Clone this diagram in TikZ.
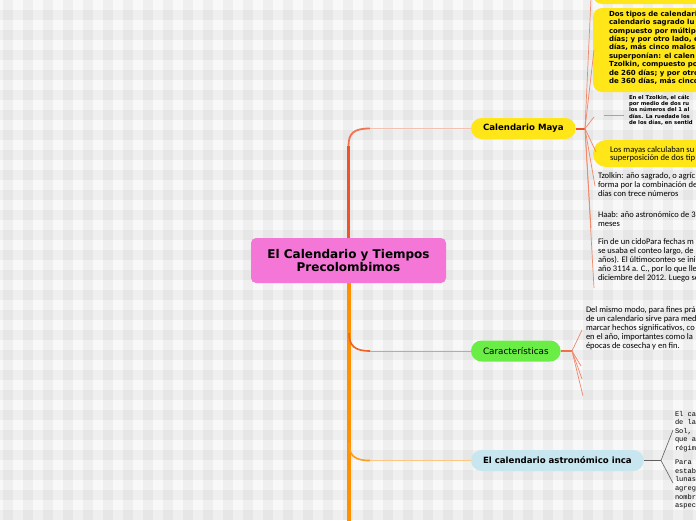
\documentclass[tikz,border=0pt]{standalone}
\usepackage{fontspec}
\setmainfont{DejaVu Sans}
\newfontfamily\libfont{Liberation Sans}
\newfontfamily\carlfont{Carlito}
\newfontfamily\monofont{Liberation Mono}
\definecolor{bgc}{RGB}{248,248,248}
\definecolor{pinkc}{RGB}{244,118,214}
\definecolor{yel}{RGB}{255,230,25}
\definecolor{grn}{RGB}{106,238,70}
\definecolor{blu}{RGB}{200,230,240}
\definecolor{trunkred}{RGB}{238,84,40}
\definecolor{trunkor}{RGB}{255,145,0}
\definecolor{fanc}{RGB}{242,135,105}
\definecolor{palemaya}{RGB}{245,192,178}
\definecolor{carpale}{RGB}{242,150,120}
\definecolor{incapale}{RGB}{255,200,130}
\definecolor{grayline}{RGB}{95,95,95}
\begin{document}
\begin{tikzpicture}[x=1pt,y=-1pt,
  every node/.style={inner sep=0pt, outer sep=0pt},
  pill/.style={rounded corners=10.5pt, minimum height=21pt, inner xsep=12pt, anchor=west},
  txt/.style={anchor=north west, align=left},
  fan/.style={draw=fanc, line width=0.7pt},
  incafan/.style={draw=grayline, line width=0.6pt},
  boldsm/.style={font=\bfseries\fontsize{7}{8.4}\selectfont},
  tzfont/.style={font=\bfseries\fontsize{5.3}{6.3}\selectfont},
  carltxt/.style={font=\carlfont\fontsize{8.5}{8.9}\selectfont},
  monotxt/.style={font=\monofont\fontsize{7}{8.6}\selectfont},
]
\useasboundingbox (0,0) rectangle (696,520);
\clip (0,0) rectangle (696,520);
% gingham background
\fill[bgc] (0,0) rectangle (696,520);
\foreach \i in {0,...,34} \fill[black,opacity=0.035] ({3+20*\i},0) rectangle ({13+20*\i},520);
\foreach \j in {0,...,25} \fill[black,opacity=0.035] (0,{10+20*\j}) rectangle (696,{20+20*\j});

% central node
\node[rounded corners=5pt, fill=pinkc, minimum width=195pt, minimum height=45pt, align=center,
      font=\bfseries\fontsize{12}{13.5}\selectfont] (center) at (348.5,260.5)
      {El Calendario y Tiempos\\Precolombimos};

% main branch nodes
\node[pill, fill=yel, font=\bfseries\fontsize{8.6}{10}\selectfont] (maya) at (471,128.5) {Calendario Maya};
\node[pill, fill=grn, font=\fontsize{8.8}{10}\selectfont] (carac) at (471,351) {Características};
\node[pill, fill=blu, font=\bfseries\fontsize{8.6}{10}\selectfont] (inca) at (471,460.5) {El calendario astronómico inca};

% trunk and branches
\coordinate (m1) at (348.5,146);
\coordinate (m2) at (370,128.5);
\draw[trunkred, line width=3.5pt] (center.north) -- (m1);
\draw[trunkred!70!palemaya, line width=1.8pt] (m1) .. controls (348.5,133) and (354,128.5) .. (m2);
\draw[palemaya, line width=1pt] (m2) -- (maya.west);

\coordinate (bottom) at (348.5,522);
\draw[trunkor, line width=4pt] (center.south) -- (bottom);

\coordinate (c1) at (349,333);
\coordinate (c2) at (370,351);
\draw[trunkred!80!trunkor, line width=1.6pt] (c1) .. controls (349,346) and (355,351) .. (c2);
\draw[carpale, line width=1pt] (c2) -- (carac.west);

\coordinate (i1) at (349,443);
\coordinate (i2) at (370,460.5);
\draw[trunkor!80!incapale, line width=1.6pt] (i1) .. controls (349,456) and (355,460.5) .. (i2);
\draw[incapale, line width=1pt] (i2) -- (inca.west);

% --- Calendario Maya children ---
\coordinate (mv) at (585,128.5);
\draw[trunkred, line width=2pt] (maya.east) -- (mv);

\fill[yel, rounded corners=9pt] (593,-30) rectangle (720,4);
\coordinate (k0) at (591,-2);
\draw[fan] (mv) -- (k0);

\fill[yel, rounded corners=9pt] (593,8) rectangle (720,92);
\node[txt, boldsm] (dos) at (609,11) {Dos tipos de calendari\\calendario sagrado lu\\compuesto por múltip\\días; y por otro lado, e\\días, más cinco malos\\superponían: el calen\\Tzolkin, compuesto po\\de 260 días; y por otro\\de 360 días, más cinco};
\coordinate (k1) at (594,50);
\draw[fan] (mv) -- (k1);

\node[txt, tzfont] (tzol) at (629,95) {En el Tzolkin, el cálc\\por medio de dos ru\\los números del 1 al\\días. La ruedade los\\de los días, en sentid};
\coordinate (k2) at (594,117);
\coordinate (k2a) at (604,115);
\coordinate (k2b) at (624,115);
\draw[fan] (mv) -- (k2);
\draw[fan] (k2a) -- (k2b);

\fill[yel, rounded corners=13pt] (593,140) rectangle (720,167);
\node[txt, font=\carlfont\fontsize{8.6}{8.3}\selectfont] (mayas) at (610,146.5) {Los mayas calculaban su\\superposición de dos tip};
\coordinate (k3) at (596,152);
\draw[fan] (mv) -- (k3);

\node[txt, carltxt] (tz2) at (598,172.5) {Tzolkin: año sagrado, o agríc\\forma por la combinación de\\días con trece números};
\coordinate (k4) at (595,186);
\draw[fan] (mv) -- (k4);

\node[txt, carltxt] (haab) at (598,212) {Haab: año astronómico de 36\\meses};
\coordinate (k5) at (591,228);
\draw[fan] (mv) -- (k5);

\node[txt, carltxt] (fin) at (598,239) {Fin de un cidoPara fechas m\\se usaba el conteo largo, de\\años). El últimoconteo se ini\\año 3114 a. C., por lo que lle\\diciembre del 2012. Luego se};
\coordinate (k6) at (594,288);
\draw[fan] (mv) -- (k6);

% --- Características children ---
\coordinate (cv) at (572,351);
\draw[trunkred!85!white, line width=1.8pt] (carac.east) -- (cv);
\node[txt, carltxt] (delm) at (586,307) {Del mismo modo, para fines prá\\de un calendario sirve para med\\marcar hechos significativos, co\\en el año, importantes como la\\épocas de cosecha y en fin.};
\coordinate (q1) at (582,330);
\coordinate (q2) at (581,366);
\coordinate (q3) at (582,379);
\coordinate (q4) at (583,396);
\draw[fan] (cv) -- (q1);
\draw[fan] (cv) -- (q2);
\draw[fan] (cv) -- (q3);
\draw[fan] (cv) -- (q4);

% --- Inca children ---
\coordinate (iv) at (661,460.5);
\draw[grayline, line width=1pt] (inca.east) -- (iv);
\node[txt, monotxt] (inca1) at (675,411) {El ca\\de la\\Sol,\\que a\\régim};
\node[txt, monotxt] (inca2) at (675,460) {Para\\estab\\lunas\\agreg\\nombr\\aspec};
\coordinate (r1) at (673,430);
\coordinate (r2) at (673,483);
\draw[incafan] (iv) -- (r1);
\draw[incafan] (iv) -- (r2);
\end{tikzpicture}
\end{document}
